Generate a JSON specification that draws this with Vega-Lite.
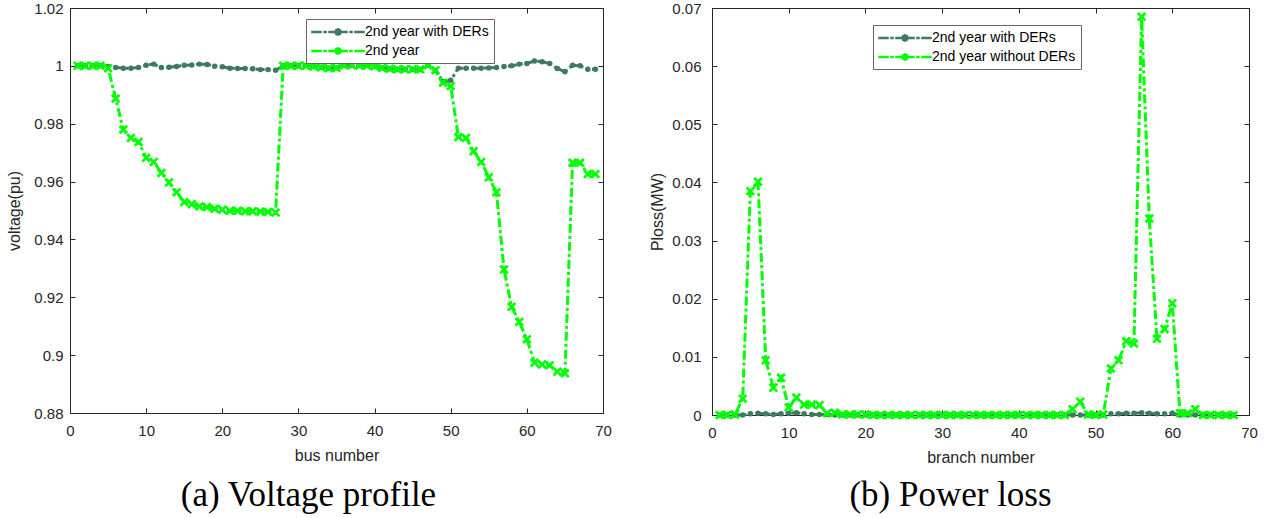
{
  "$schema": "https://vega.github.io/schema/vega-lite/v6.json",
  "padding": {"left": 6, "top": 0, "right": 8, "bottom": 0},
  "config": {
    "font": "Liberation Sans",
    "view": {"stroke": "#262626", "strokeWidth": 1},
    "axis": {"grid": false, "domain": false, "labelFlush": false, "tickColor": "#262626", "labelColor": "#262626", "titleColor": "#262626", "labelFont": "Liberation Sans", "titleFont": "Liberation Sans", "labelFontSize": 15, "titleFontSize": 16, "titleFontWeight": "normal", "tickSize": 5, "offset": -5, "labelPadding": 3},
    "title": {"font": "Liberation Serif", "fontSize": 35, "fontWeight": "normal", "color": "#000000"},
    "legend": {"orient": "none", "title": null, "direction": "vertical", "strokeColor": "#666666", "fillColor": "#ffffff", "padding": 5, "rowPadding": 4, "labelFontSize": 14, "labelColor": "#000000", "labelFont": "Liberation Sans", "labelOffset": 38, "symbolSize": 196, "symbolStrokeWidth": 1.5, "symbolDash": [1, 0],
      "symbolType": "M-1,-0.07H0.286V0.07H-1Z M0.714,-0.07H1V0.07H0.714Z M1.429,-0.07H2.286V0.07H1.429Z M3.143,-0.07H4V0.07H3.143Z M4.429,-0.07H4.714V0.07H4.429Z M5.143,-0.07H6.429V0.07H5.143Z M3.164,0L3.032,0.318L2.714,0.45L2.396,0.318L2.264,0L2.396,-0.318L2.714,-0.45L3.032,-0.318Z M3.014,0L2.926,0.212L2.714,0.3L2.502,0.212L2.414,0L2.502,-0.212L2.714,-0.3L2.926,-0.212Z M2.864,0L2.714,0.15L2.564,0L2.714,-0.15Z"}
  },
  "datasets": {
    "volt": [
      {"bus": 1, "der": 1.0000, "noder": 1.0000},
      {"bus": 2, "der": 1.0000, "noder": 1.0000},
      {"bus": 3, "der": 1.0000, "noder": 1.0000},
      {"bus": 4, "der": 1.0000, "noder": 1.0000},
      {"bus": 5, "der": 0.9998, "noder": 0.9992},
      {"bus": 6, "der": 0.9994, "noder": 0.9887},
      {"bus": 7, "der": 0.9992, "noder": 0.9780},
      {"bus": 8, "der": 0.9992, "noder": 0.9751},
      {"bus": 9, "der": 0.9994, "noder": 0.9737},
      {"bus": 10, "der": 1.0002, "noder": 0.9682},
      {"bus": 11, "der": 1.0006, "noder": 0.9668},
      {"bus": 12, "der": 0.9994, "noder": 0.9630},
      {"bus": 13, "der": 0.9995, "noder": 0.9597},
      {"bus": 14, "der": 0.9998, "noder": 0.9563},
      {"bus": 15, "der": 1.0002, "noder": 0.9529},
      {"bus": 16, "der": 1.0003, "noder": 0.9522},
      {"bus": 17, "der": 1.0006, "noder": 0.9514},
      {"bus": 18, "der": 1.0005, "noder": 0.9512},
      {"bus": 19, "der": 0.9999, "noder": 0.9506},
      {"bus": 20, "der": 0.9997, "noder": 0.9503},
      {"bus": 21, "der": 0.9992, "noder": 0.9499},
      {"bus": 22, "der": 0.9991, "noder": 0.9499},
      {"bus": 23, "der": 0.9991, "noder": 0.9497},
      {"bus": 24, "der": 0.9990, "noder": 0.9497},
      {"bus": 25, "der": 0.9987, "noder": 0.9496},
      {"bus": 26, "der": 0.9987, "noder": 0.9495},
      {"bus": 27, "der": 0.9985, "noder": 0.9493},
      {"bus": 28, "der": 1.0000, "noder": 1.0000},
      {"bus": 29, "der": 1.0000, "noder": 1.0000},
      {"bus": 30, "der": 1.0000, "noder": 1.0000},
      {"bus": 31, "der": 1.0000, "noder": 1.0000},
      {"bus": 32, "der": 0.9998, "noder": 0.9998},
      {"bus": 33, "der": 0.9995, "noder": 0.9995},
      {"bus": 34, "der": 0.9992, "noder": 0.9992},
      {"bus": 35, "der": 0.9993, "noder": 0.9993},
      {"bus": 36, "der": 1.0002, "noder": 1.0002},
      {"bus": 37, "der": 1.0002, "noder": 1.0002},
      {"bus": 38, "der": 1.0001, "noder": 1.0001},
      {"bus": 39, "der": 1.0001, "noder": 1.0001},
      {"bus": 40, "der": 0.9999, "noder": 0.9999},
      {"bus": 41, "der": 0.9993, "noder": 0.9993},
      {"bus": 42, "der": 0.9990, "noder": 0.9990},
      {"bus": 43, "der": 0.9988, "noder": 0.9988},
      {"bus": 44, "der": 0.9988, "noder": 0.9988},
      {"bus": 45, "der": 0.9988, "noder": 0.9988},
      {"bus": 46, "der": 0.9988, "noder": 0.9988},
      {"bus": 47, "der": 1.0002, "noder": 1.0002},
      {"bus": 48, "der": 0.9985, "noder": 0.9985},
      {"bus": 49, "der": 0.9945, "noder": 0.9942},
      {"bus": 50, "der": 0.9950, "noder": 0.9930},
      {"bus": 51, "der": 0.9992, "noder": 0.9754},
      {"bus": 52, "der": 0.9992, "noder": 0.9751},
      {"bus": 53, "der": 0.9992, "noder": 0.9705},
      {"bus": 54, "der": 0.9992, "noder": 0.9668},
      {"bus": 55, "der": 0.9993, "noder": 0.9615},
      {"bus": 56, "der": 0.9994, "noder": 0.9563},
      {"bus": 57, "der": 0.9998, "noder": 0.9296},
      {"bus": 58, "der": 1.0000, "noder": 0.9167},
      {"bus": 59, "der": 1.0006, "noder": 0.9115},
      {"bus": 60, "der": 1.0008, "noder": 0.9055},
      {"bus": 61, "der": 1.0017, "noder": 0.8974},
      {"bus": 62, "der": 1.0014, "noder": 0.8968},
      {"bus": 63, "der": 1.0008, "noder": 0.8965},
      {"bus": 64, "der": 0.9991, "noder": 0.8943},
      {"bus": 65, "der": 0.9980, "noder": 0.8937},
      {"bus": 66, "der": 1.0002, "noder": 0.9665},
      {"bus": 67, "der": 1.0000, "noder": 0.9665},
      {"bus": 68, "der": 0.9988, "noder": 0.9626},
      {"bus": 69, "der": 0.9988, "noder": 0.9626}
    ],
    "loss": [
      {"branch": 1, "der": 0, "noder": 0},
      {"branch": 2, "der": 0, "noder": 0},
      {"branch": 3, "der": 0, "noder": 0.0001},
      {"branch": 4, "der": 0, "noder": 0.0028},
      {"branch": 5, "der": 0.0002, "noder": 0.0385},
      {"branch": 6, "der": 0.0003, "noder": 0.0401},
      {"branch": 7, "der": 0.0002, "noder": 0.0094},
      {"branch": 8, "der": 0.0001, "noder": 0.0047},
      {"branch": 9, "der": 0.0002, "noder": 0.0064},
      {"branch": 10, "der": 0.0003, "noder": 0.0013},
      {"branch": 11, "der": 0.0004, "noder": 0.0030},
      {"branch": 12, "der": 0.0002, "noder": 0.0018},
      {"branch": 13, "der": 0.0001, "noder": 0.0018},
      {"branch": 14, "der": 0.0001, "noder": 0.0017},
      {"branch": 15, "der": 0.0001, "noder": 0.0003},
      {"branch": 16, "der": 0, "noder": 0.0004},
      {"branch": 17, "der": 0, "noder": 0.0001},
      {"branch": 18, "der": 0, "noder": 0.0001},
      {"branch": 19, "der": 0, "noder": 0.0001},
      {"branch": 20, "der": 0, "noder": 0.0001},
      {"branch": 21, "der": 0, "noder": 0},
      {"branch": 22, "der": 0, "noder": 0},
      {"branch": 23, "der": 0, "noder": 0},
      {"branch": 24, "der": 0, "noder": 0},
      {"branch": 25, "der": 0, "noder": 0},
      {"branch": 26, "der": 0, "noder": 0},
      {"branch": 27, "der": 0, "noder": 0},
      {"branch": 28, "der": 0, "noder": 0},
      {"branch": 29, "der": 0, "noder": 0},
      {"branch": 30, "der": 0, "noder": 0},
      {"branch": 31, "der": 0, "noder": 0},
      {"branch": 32, "der": 0, "noder": 0},
      {"branch": 33, "der": 0, "noder": 0},
      {"branch": 34, "der": 0, "noder": 0},
      {"branch": 35, "der": 0, "noder": 0},
      {"branch": 36, "der": 0, "noder": 0},
      {"branch": 37, "der": 0, "noder": 0},
      {"branch": 38, "der": 0, "noder": 0},
      {"branch": 39, "der": 0, "noder": 0},
      {"branch": 40, "der": 0, "noder": 0},
      {"branch": 41, "der": 0, "noder": 0},
      {"branch": 42, "der": 0, "noder": 0},
      {"branch": 43, "der": 0, "noder": 0},
      {"branch": 44, "der": 0, "noder": 0},
      {"branch": 45, "der": 0, "noder": 0},
      {"branch": 46, "der": 0, "noder": 0},
      {"branch": 47, "der": 0, "noder": 0.0010},
      {"branch": 48, "der": 0, "noder": 0.0023},
      {"branch": 49, "der": 0, "noder": 0.0001},
      {"branch": 50, "der": 0, "noder": 0},
      {"branch": 51, "der": 0, "noder": 0.0001},
      {"branch": 52, "der": 0.0002, "noder": 0.0080},
      {"branch": 53, "der": 0.0002, "noder": 0.0094},
      {"branch": 54, "der": 0.0003, "noder": 0.0127},
      {"branch": 55, "der": 0.0003, "noder": 0.0123},
      {"branch": 56, "der": 0.0004, "noder": 0.0685},
      {"branch": 57, "der": 0.0003, "noder": 0.0338},
      {"branch": 58, "der": 0.0002, "noder": 0.0131},
      {"branch": 59, "der": 0.0002, "noder": 0.0148},
      {"branch": 60, "der": 0.0003, "noder": 0.0192},
      {"branch": 61, "der": 0, "noder": 0.0003},
      {"branch": 62, "der": 0, "noder": 0.0003},
      {"branch": 63, "der": 0, "noder": 0.0010},
      {"branch": 64, "der": 0, "noder": 0},
      {"branch": 65, "der": 0, "noder": 0},
      {"branch": 66, "der": 0, "noder": 0},
      {"branch": 67, "der": 0, "noder": 0},
      {"branch": 68, "der": 0, "noder": 0}
    ]
  },
  "spacing": 37,
  "resolve": {"scale": {"fill": "independent", "stroke": "independent"}, "legend": {"fill": "independent", "stroke": "independent"}},
  "hconcat": [
    {
      "width": 533,
      "height": 405,
      "title": {"text": "(a) Voltage profile", "orient": "bottom", "offset": 15, "dx": -28},
      "data": {"name": "volt"},
      "transform": [{"fold": ["der", "noder"], "as": ["series", "v"]}],
      "layer": [
        {
          "mark": {"type": "line", "strokeWidth": 3, "strokeDash": [9, 3, 3, 3]},
          "encoding": {
            "x": {"field": "bus", "type": "quantitative", "scale": {"domain": [0, 70], "nice": false}, "axis": {"values": [0, 10, 20, 30, 40, 50, 60, 70], "title": "bus number", "titlePadding": 9, "labelPadding": 10}},
            "y": {"field": "v", "type": "quantitative", "scale": {"domain": [0.88, 1.02], "nice": false, "zero": false}, "axis": {"values": [0.88, 0.9, 0.92, 0.94, 0.96, 0.98, 1, 1.02], "format": "~g", "title": "voltage(pu)", "titlePadding": 11, "labelPadding": 7}},
            "stroke": {"field": "series", "type": "nominal", "scale": {"domain": ["der", "noder"], "range": ["#3d7a5f", "#00ff00"]},
              "legend": {"legendX": 236, "legendY": 11, "labelExpr": "datum.label == 'der' ? '2nd year with DERs' : '2nd year'"}}
          }
        },
        {
          "transform": [{"filter": "datum.series == 'der'"}],
          "mark": {"type": "point", "filled": true, "opacity": 1, "shape": "circle", "size": 30},
          "encoding": {
            "x": {"field": "bus", "type": "quantitative", "scale": {"domain": [0, 70], "nice": false}, "axis": {"orient": "top", "values": [0, 10, 20, 30, 40, 50, 60, 70], "labels": false, "title": null}},
            "y": {"field": "v", "type": "quantitative", "scale": {"domain": [0.88, 1.02], "nice": false, "zero": false}, "axis": {"orient": "right", "values": [0.88, 0.9, 0.92, 0.94, 0.96, 0.98, 1, 1.02], "labels": false, "title": null}},
            "fill": {"field": "series", "type": "nominal", "scale": {"domain": ["der", "noder"], "range": ["#3d7a5f", "#00ff00"]}, "legend": null}
          }
        },
        {
          "transform": [{"filter": "datum.series == 'noder'"}],
          "mark": {"type": "point", "filled": true, "opacity": 1, "size": 90, "shape": "M-1,-0.6L-0.6,-1L0,-0.4L0.6,-1L1,-0.6L0.4,0L1,0.6L0.6,1L0,0.4L-0.6,1L-1,0.6L-0.4,0Z"},
          "encoding": {
            "x": {"field": "bus", "type": "quantitative", "axis": null},
            "y": {"field": "v", "type": "quantitative", "axis": null},
            "fill": {"field": "series", "type": "nominal", "legend": null}
          }
        }
      ],
      "resolve": {"axis": {"x": "independent", "y": "independent"}}
    },
    {
      "width": 537,
      "height": 407,
      "title": {"text": "(b) Power loss", "orient": "bottom", "offset": 13, "dx": -30},
      "data": {"name": "loss"},
      "transform": [{"fold": ["der", "noder"], "as": ["series", "v"]}],
      "layer": [
        {
          "mark": {"type": "line", "strokeWidth": 3, "strokeDash": [9, 3, 3, 3]},
          "encoding": {
            "x": {"field": "branch", "type": "quantitative", "scale": {"domain": [0, 70], "nice": false}, "axis": {"values": [0, 10, 20, 30, 40, 50, 60, 70], "title": "branch number", "titlePadding": 9, "labelPadding": 10}},
            "y": {"field": "v", "type": "quantitative", "scale": {"domain": [0, 0.07], "nice": false}, "axis": {"values": [0, 0.01, 0.02, 0.03, 0.04, 0.05, 0.06, 0.07], "format": "~g", "title": "Ploss(MW)", "titlePadding": 6, "labelPadding": 11}},
            "stroke": {"field": "series", "type": "nominal", "scale": {"domain": ["der", "noder"], "range": ["#3d7a5f", "#00ff00"]},
              "legend": {"legendX": 161, "legendY": 17, "labelExpr": "datum.label == 'der' ? '2nd year with DERs' : '2nd year without DERs'"}}
          }
        },
        {
          "transform": [{"filter": "datum.series == 'der'"}],
          "mark": {"type": "point", "filled": true, "opacity": 1, "shape": "circle", "size": 30},
          "encoding": {
            "x": {"field": "branch", "type": "quantitative", "scale": {"domain": [0, 70], "nice": false}, "axis": {"orient": "top", "values": [0, 10, 20, 30, 40, 50, 60, 70], "labels": false, "title": null}},
            "y": {"field": "v", "type": "quantitative", "scale": {"domain": [0, 0.07], "nice": false}, "axis": {"orient": "right", "values": [0, 0.01, 0.02, 0.03, 0.04, 0.05, 0.06, 0.07], "labels": false, "title": null}},
            "fill": {"field": "series", "type": "nominal", "scale": {"domain": ["der", "noder"], "range": ["#3d7a5f", "#00ff00"]}, "legend": null}
          }
        },
        {
          "transform": [{"filter": "datum.series == 'noder'"}],
          "mark": {"type": "point", "filled": true, "opacity": 1, "size": 90, "shape": "M-1,-0.6L-0.6,-1L0,-0.4L0.6,-1L1,-0.6L0.4,0L1,0.6L0.6,1L0,0.4L-0.6,1L-1,0.6L-0.4,0Z"},
          "encoding": {
            "x": {"field": "branch", "type": "quantitative", "axis": null},
            "y": {"field": "v", "type": "quantitative", "axis": null},
            "fill": {"field": "series", "type": "nominal", "legend": null}
          }
        }
      ],
      "resolve": {"axis": {"x": "independent", "y": "independent"}}
    }
  ]
}
